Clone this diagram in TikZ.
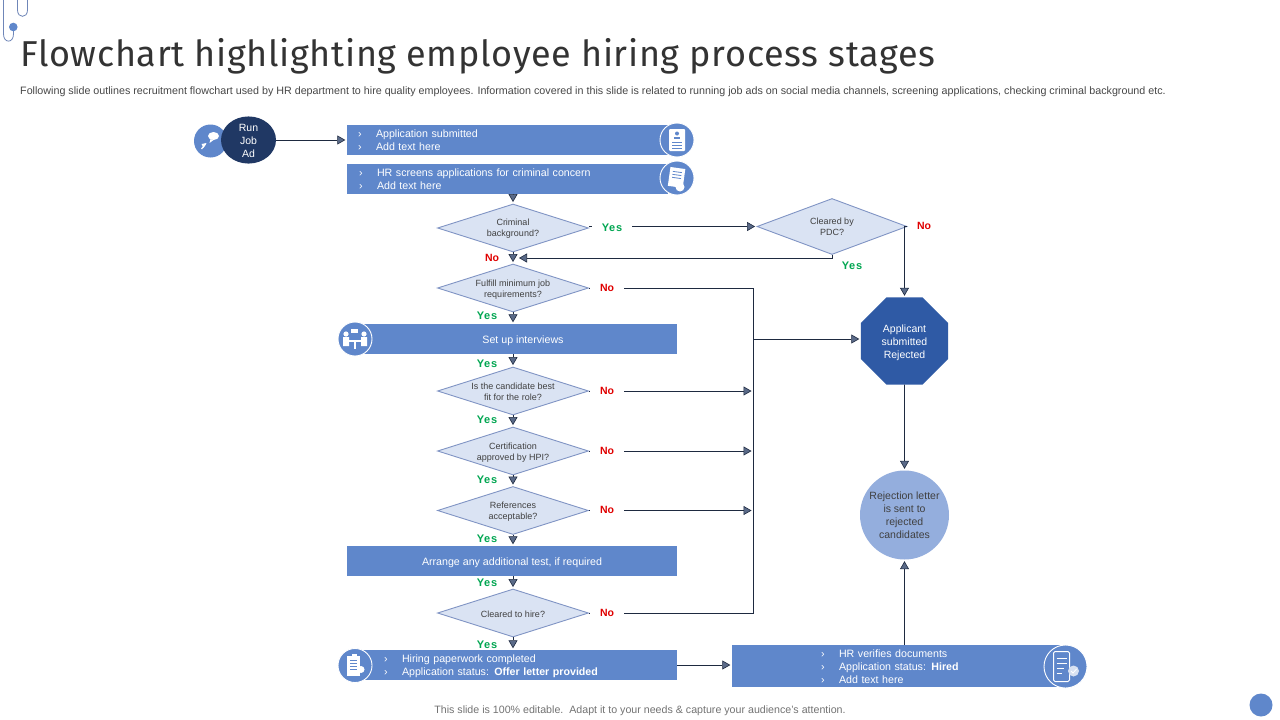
\documentclass[tikz,border=0pt]{standalone}
\usepackage{fontspec}
\setmainfont{Liberation Sans}
\newfontfamily\titlefont[LetterSpace=1.8]{Fira Sans}
\newfontfamily\yesfont[LetterSpace=7]{Liberation Sans}
\usetikzlibrary{shapes.geometric,arrows.meta}
\definecolor{barblue}{HTML}{5F87CB}
\definecolor{navy}{HTML}{203864}
\definecolor{octblue}{HTML}{2F5AA5}
\definecolor{dfill}{HTML}{DAE3F3}
\definecolor{dline}{HTML}{8094C4}
\definecolor{lettercol}{HTML}{94AEDD}
\definecolor{wire}{HTML}{1E2A40}
\definecolor{tipcol}{HTML}{5A6A88}
\definecolor{yescol}{HTML}{00A651}
\definecolor{nocol}{HTML}{E00000}
\definecolor{clipcol}{HTML}{6F86B8}
\newcommand{\bul}{\makebox[18pt][l]{›}}
\newcommand{\dn}[2]{\raisebox{-#1}[\height][\depth]{#2}}
\newcommand{\dtxt}[1]{\dn{1.5pt}{\makebox[0pt][c]{\begin{tabular}{@{}c@{}}#1\end{tabular}}}}
\tikzset{
  x=1pt,y=-1pt,
  bar/.style={rectangle,fill=barblue,text=white,inner ysep=0pt,minimum height=#1,align=left,font=\fontsize{10.65}{13}\selectfont},
  midbar/.style={rectangle,fill=barblue,text=white,inner sep=0pt,minimum width=330pt,minimum height=30pt,font=\fontsize{10.65}{13}\selectfont},
  iconc/.style={circle,fill=barblue,draw=white,line width=0.9pt,inner sep=0pt,minimum size=#1},
  dec/.style={diamond,aspect=3.1,fill=dfill,draw=dline,line width=0.9pt,inner sep=0pt,minimum width=151pt,minimum height=48pt,text=black!75,font=\fontsize{9}{11}\selectfont},
  yesl/.style={fill=white,inner sep=0pt,minimum width=40pt,minimum height=12pt,text=yescol,font=\yesfont\bfseries\fontsize{11}{12}\selectfont},
  nol/.style={fill=white,inner sep=0pt,minimum width=34pt,minimum height=12pt,text=nocol,font=\bfseries\fontsize{10.5}{12}\selectfont},
  yesf/.style={inner sep=0pt,text=yescol,font=\yesfont\bfseries\fontsize{11}{12}\selectfont},
  nof/.style={inner sep=0pt,text=nocol,font=\bfseries\fontsize{10.5}{12}\selectfont},
  wired/.style={draw=wire,line width=0.9pt},
  arr/.style={wired,shorten >=1.5pt,-{Triangle[length=8pt,width=9pt,fill=tipcol,line width=0.6pt]}},
  ico/.style={fill=white,draw=none},
  icol/.style={draw=barblue,line width=0.8pt},
}
\begin{document}
\begin{tikzpicture}
\useasboundingbox (0,0) rectangle (1280,720);
\fill[white] (0,0) rectangle (1280,720);
% paper clips
\draw[clipcol,line width=0.8pt] (3.5,0) -- (3.5,34) .. controls (3.5,43.5) and (13.5,43.5) .. (13.5,34) -- (13.5,27);
\draw[clipcol,line width=0.8pt] (17.5,0) -- (17.5,10) .. controls (17.5,18.5) and (27.5,18.5) .. (27.5,10) -- (27.5,0);
\fill[barblue] (13.3,27) circle[radius=4.3];
\node[anchor=west,inner sep=0pt,text=black!80,font=\titlefont\fontsize{36}{42}\selectfont] (title) at (20,56.5) {Flowchart highlighting employee hiring process stages};
\node[anchor=west,inner sep=0pt,text=black!72,font=\fontsize{10.72}{12}\selectfont] (sub) at (20,91.5) {Following slide outlines recruitment flowchart used by HR department to hire quality employees. Information covered in this slide is related to running job ads on social media channels, screening applications, checking criminal background etc.};
% start
\node[iconc=33pt,draw=none] (jobic) at (210.5,141) {};
\node[ellipse,fill=navy,text=white,inner sep=0pt,minimum width=55pt,minimum height=43pt,align=center,font=\fontsize{10.5}{13}\selectfont] (job) at (248.5,140) {\dn{1pt}{Run}\\\dn{1pt}{Job}\\\dn{1pt}{Ad}};
% bars
\node[bar=30pt,inner xsep=11pt,text width=299pt] (app) at (507.5,140) {\bul Application submitted\\\bul Add text here};
\node[bar=30pt,inner xsep=12pt,text width=297pt] (hr) at (507.5,178.5) {\dn{1pt}{\bul HR screens applications for criminal concern}\\\dn{1pt}{\bul Add text here}};
\node[midbar] (iv) at (512,339) {\dn{2pt}{\hspace{22pt}Set up interviews}};
\node[midbar] (test) at (512,561) {\dn{2pt}{Arrange any additional test, if required}};
\node[bar=30pt,inner xsep=21pt,text width=272pt] (paper) at (520,665) {\dn{1pt}{\bul Hiring paperwork completed}\\\dn{1pt}{\bul Application status: \textbf{Offer letter provided}}};
\node[bar=42pt,inner xsep=89pt,text width=150pt] (verify) at (896,666) {\dn{1pt}{\bul HR verifies documents}\\\dn{1pt}{\bul Application status: \textbf{Hired}}\\\dn{1pt}{\bul Add text here}};
% icon circles
\node[iconc=34pt] (appic) at (677,140) {};
\node[iconc=34pt] (hric) at (677,178) {};
\node[iconc=34pt] (ivic) at (355,339) {};
\node[iconc=34pt] (paperic) at (355,665.5) {};
\node[iconc=43pt] (verifyic) at (1065.5,666.5) {};
% decisions
\node[dec] (crim) at (513,228) {\raisebox{1pt}[\height][\depth]{\dtxt{Criminal\\background?}}};
\node[dec,minimum height=56pt,minimum width=150pt] (pdc) at (832,226.5) {\dtxt{Cleared by\\PDC?}};
\node[dec] (ful) at (513,288) {\dtxt{Fulfill minimum job\\requirements?}};
\node[dec] (fit) at (513,391) {\dtxt{Is the candidate best\\fit for the role?}};
\node[dec] (cert) at (513,451) {\dtxt{Certification\\approved by HPI?}};
\node[dec] (ref) at (513,510.5) {\dtxt{References\\acceptable?}};
\node[dec] (clr) at (513,613) {\dn{1pt}{\dtxt{Cleared to hire?}}};
% outcomes
\node[regular polygon,regular polygon sides=8,fill=octblue,text=white,inner sep=0pt,minimum size=94.2pt,align=center,font=\fontsize{10.5}{13}\selectfont] (rej) at (904.5,341) {\dn{2pt}{Applicant}\\\dn{2pt}{submitted}\\\dn{2pt}{Rejected}};
\node[circle,fill=lettercol,text=black!75,inner sep=0pt,minimum size=89pt,align=center,font=\fontsize{10.5}{13}\selectfont] (letter) at (904.5,515) {Rejection letter\\is sent to\\rejected\\candidates};
% junctions
\coordinate (busj) at (753,339);
\coordinate (busb) at (753,613);
\coordinate (lane) at (517.5,258);
% connectors
\draw[arr] (job) -- (app.west);
\draw[arr] (hr.south -| crim.north) -- (crim.north);
\draw[arr] (crim.south) -- (ful.north);
\draw[arr] (ful.south) -- (ful.south |- iv.north);
\draw[arr] (iv.south -| fit.north) -- (fit.north);
\draw[arr] (fit.south) -- (cert.north);
\draw[arr] (cert.south) -- (ref.north);
\draw[arr] (ref.south) -- (ref.south |- test.north);
\draw[arr] (test.south -| clr.north) -- (clr.north);
\draw[arr] (clr.south) -- (clr.south |- paper.north);
\draw[arr] (pdc.west -| crim.east) -- (pdc.west);
\draw[arr] (pdc.south) |- (lane);
\draw[arr] (pdc.east) -- (pdc.east -| rej.north) -- (rej.north);
\draw[wired] (ful.east) -- (ful.east -| busb) -- (busb) -- (clr.east);
\draw[arr] (busj) -- (busj -| rej.west);
\draw[arr] (fit.east) -- (fit.east -| busj);
\draw[arr] (cert.east) -- (cert.east -| busj);
\draw[arr] (ref.east) -- (ref.east -| busj);
\draw[arr] (rej.south) -- (letter.north);
\draw[arr] (verify.north -| letter.south) -- (letter.south);
\draw[arr] (paper.east) -- (paper.east -| verify.west);
% branch labels
\node[yesl] (y1) at (612,227.5) {Yes};
\node[nol] (n2) at (607,288) {No};
\node[nol] (n3) at (607,391) {No};
\node[nol] (n4) at (607,451) {No};
\node[nol] (n5) at (607,510) {No};
\node[nol] (n6) at (607,613) {No};
\node[nof] (n1) at (492,257.5) {No};
\node[nof] (n7) at (924,225.5) {No};
\node[yesf] (y7) at (852,265.5) {Yes};
\node[yesf] (y2) at (487,315.5) {Yes};
\node[yesf] (y3) at (487,363.5) {Yes};
\node[yesf] (y4) at (487,419.5) {Yes};
\node[yesf] (y5) at (487,479.5) {Yes};
\node[yesf] (y6) at (487,538.5) {Yes};
\node[yesf] (y8) at (487,582.5) {Yes};
\node[yesf] (y9) at (487,644.5) {Yes};
% icons
\begin{scope}[shift={(jobic.center)}]
  \fill[ico] (3,-5) ellipse[x radius=5.5,y radius=4];
  \fill[ico] (0,-2) -- (-1,2) -- (3,-1) -- cycle;
  \draw[white,line width=1.2pt] (-5,3) -- (-9,8);
  \fill[ico] (-4,2) -- (-9,3) -- (-7,7) -- cycle;
\end{scope}
\begin{scope}[shift={(appic.center)}]
  \fill[ico,rounded corners=1pt] (-8,-11) rectangle (8,11);
  \fill[barblue] (0,-6.5) circle[radius=2];
  \fill[barblue] (-3,-1.5) rectangle (3,-3.5);
  \draw[icol] (-5,2) -- (5,2) (-5,5) -- (5,5) (-5,8) -- (5,8);
\end{scope}
\begin{scope}[shift={(hric.center)}]
  \fill[ico,rotate=-8] (-8,-10) rectangle (7,9);
  \draw[icol,rotate=-8] (-5,-6) -- (4,-6) (-5,-3) -- (4,-3) (-5,0) -- (4,0);
  \fill[ico] (3,9) circle[radius=4.5];
\end{scope}
\begin{scope}[shift={(ivic.center)}]
  \fill[ico] (-9,-5) circle[radius=2.6] (9,-5) circle[radius=2.6];
  \fill[ico] (-12,-2) rectangle (-6,7) (6,-2) rectangle (12,7);
  \fill[ico] (-6,1) rectangle (6,3);
  \fill[ico] (-1,3) rectangle (1,10);
  \fill[ico] (-4,-10) rectangle (3,-6);
\end{scope}
\begin{scope}[shift={(paperic.center)}]
  \fill[ico] (-8,-10) rectangle (5,10);
  \fill[ico] (-3,-12) rectangle (2,-9);
  \draw[icol] (-5,-5) -- (2,-5) (-5,-2) -- (2,-2) (-5,1) -- (2,1) (-5,4) -- (2,4);
  \fill[ico] (6,4) circle[radius=3.5];
\end{scope}
\begin{scope}[shift={(verifyic.center)}]
  \draw[white,line width=1pt,rounded corners=1.5pt] (-12,-15) rectangle (4,15);
  \draw[white,line width=0.7pt] (-9,-8) -- (1,-8) (-9,-3) -- (1,-3) (-9,2) -- (-2,2) (-9,7) -- (-4,7);
  \fill[white!75!barblue] (8,4.5) circle[radius=5.5];
  \draw[white,line width=0.8pt] (5.5,4.5) -- (7.5,6.5) -- (11,2.5);
\end{scope}
% footer
\node[inner sep=0pt,text=black!55,font=\fontsize{10.65}{12}\selectfont] (foot) at (640,710.5) {This slide is 100\% editable.\ \ Adapt it to your needs \& capture your audience's attention.};
\node[circle,fill=barblue,inner sep=0pt,minimum size=23pt] (dot) at (1261,705) {};
\end{tikzpicture}
\end{document}
